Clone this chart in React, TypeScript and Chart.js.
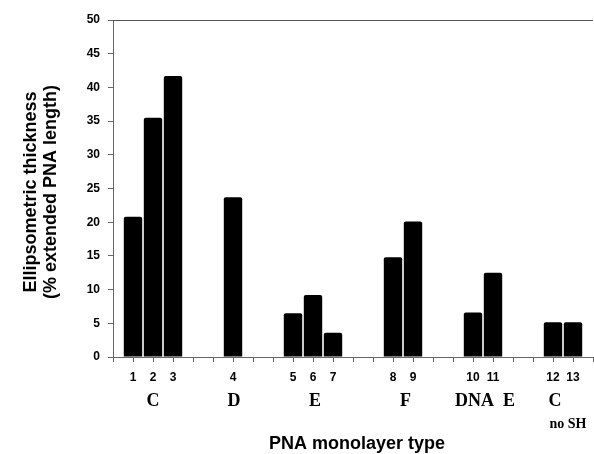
import React, { useEffect, useRef } from "react";
import { Chart, registerables } from "chart.js";

Chart.register(...registerables);

// Bar numbers and their slot on the x axis
const barLabels = ["1", "2", "3", "4", "5", "6", "7", "8", "9", "10", "11", "12", "13"];
const barPositions = [1, 2, 3, 6, 9, 10, 11, 14, 15, 18, 19, 22, 23];
// Ellipsometric thickness (% extended PNA length)
const thickness = [20.8, 35.5, 41.7, 23.7, 6.5, 9.2, 3.6, 14.8, 20.1, 6.6, 12.5, 5.15, 5.15];

// Group labels under the bar numbers (anchored in x-axis units)
const groupNames = ["C", "D", "E", "F", "DNA  E", "C"];
const groupAt = [2, 6.05, 10.1, 14.63, 18.6, 22.1];
const subNames = ["no SH"];
const subAt = [22.75];

const yTitleLines = ["Ellipsometric thickness", "(% extended PNA length)"];
const xTitle = "PNA monolayer type";

const SANS = '"Liberation Sans", Arial, sans-serif';
const SERIF = '"Liberation Serif", "Times New Roman", serif';

const textPlugin = {
  id: "textPlugin",
  afterDraw(chart: any) {
    const { ctx, chartArea, scales } = chart;
    const x = scales.x;
    ctx.save();
    // top frame line
    ctx.strokeStyle = "#555";
    ctx.lineWidth = 1;
    ctx.beginPath();
    ctx.moveTo(chartArea.left, chartArea.top + 0.5);
    ctx.lineTo(chartArea.right, chartArea.top + 0.5);
    ctx.stroke();

    ctx.fillStyle = "#000";
    ctx.textAlign = "center";
    ctx.textBaseline = "alphabetic";
    ctx.font = `bold 18px ${SERIF}`;
    groupNames.forEach((g, i) => {
      ctx.fillText(g, x.getPixelForValue(groupAt[i]), 406);
    });
    ctx.font = `bold 14px ${SERIF}`;
    subNames.forEach((s, i) => {
      ctx.fillText(s, x.getPixelForValue(subAt[i]), 428);
    });

    ctx.font = `bold 18px ${SANS}`;
    ctx.fillText(xTitle, (chartArea.left + chartArea.right) / 2 + 4, 448.5);

    ctx.save();
    ctx.translate(36, 192);
    ctx.rotate(-Math.PI / 2);
    ctx.font = `bold 18px ${SANS}`;
    yTitleLines.forEach((line, i) => {
      ctx.fillText(line, 0, i * 19.5);
    });
    ctx.restore();
    ctx.restore();
  },
};

export default function App() {
  const ref = useRef<HTMLCanvasElement>(null);
  useEffect(() => {
    if (!ref.current) return;
    const chart = new Chart(ref.current, {
      type: "bar",
      data: {
        datasets: [
          {
            data: barPositions.map((p, i) => ({ x: p, y: thickness[i] })),
            backgroundColor: "#000",
            borderWidth: 0,
            borderRadius: { topLeft: 2, topRight: 2, bottomLeft: 0, bottomRight: 0 },
            borderSkipped: "bottom",
            barPercentage: 0.92,
            categoryPercentage: 1,
          },
        ],
      },
      options: {
        responsive: false,
        animation: false,
        layout: { padding: { top: 20, right: 1, left: 0, bottom: 0 } },
        plugins: { legend: { display: false }, tooltip: { enabled: false }, title: { display: false } },
        scales: {
          x: {
            type: "linear",
            offset: false,
            min: 0,
            max: 24,
            afterFit: (s: any) => {
              s.height = 97;
              s.paddingLeft = 0;
              s.paddingRight = 0;
            },
            grid: { offset: false, drawOnChartArea: false, drawTicks: true, tickLength: 5, color: "#666" },
            border: { display: true, color: "#666", width: 1 },
            ticks: {
              stepSize: 1,
              autoSkip: false,
              maxRotation: 0,
              padding: 8,
              color: "#000",
              font: { family: SANS, size: 12, weight: "bold" },
              callback: (v: any) => {
                const i = barPositions.indexOf(Number(v));
                return i >= 0 ? barLabels[i] : "";
              },
            },
          },
          y: {
            min: 0,
            max: 50,
            afterFit: (s: any) => {
              s.width = 113;
            },
            grid: { drawOnChartArea: false, drawTicks: true, tickLength: 5, color: "#666" },
            border: { display: true, color: "#666", width: 1 },
            ticks: {
              stepSize: 5,
              padding: 8,
              color: "#000",
              font: { family: SANS, size: 12, weight: "bold" },
            },
          },
        },
      },
      plugins: [textPlugin],
    });
    return () => chart.destroy();
  }, []);
  return (
    <div style={{ position: "absolute", left: 0, top: 0, width: 594, height: 454, background: "#fff" }}>
      <canvas ref={ref} width={594} height={454} style={{ width: 594, height: 454 }} />
    </div>
  );
}
